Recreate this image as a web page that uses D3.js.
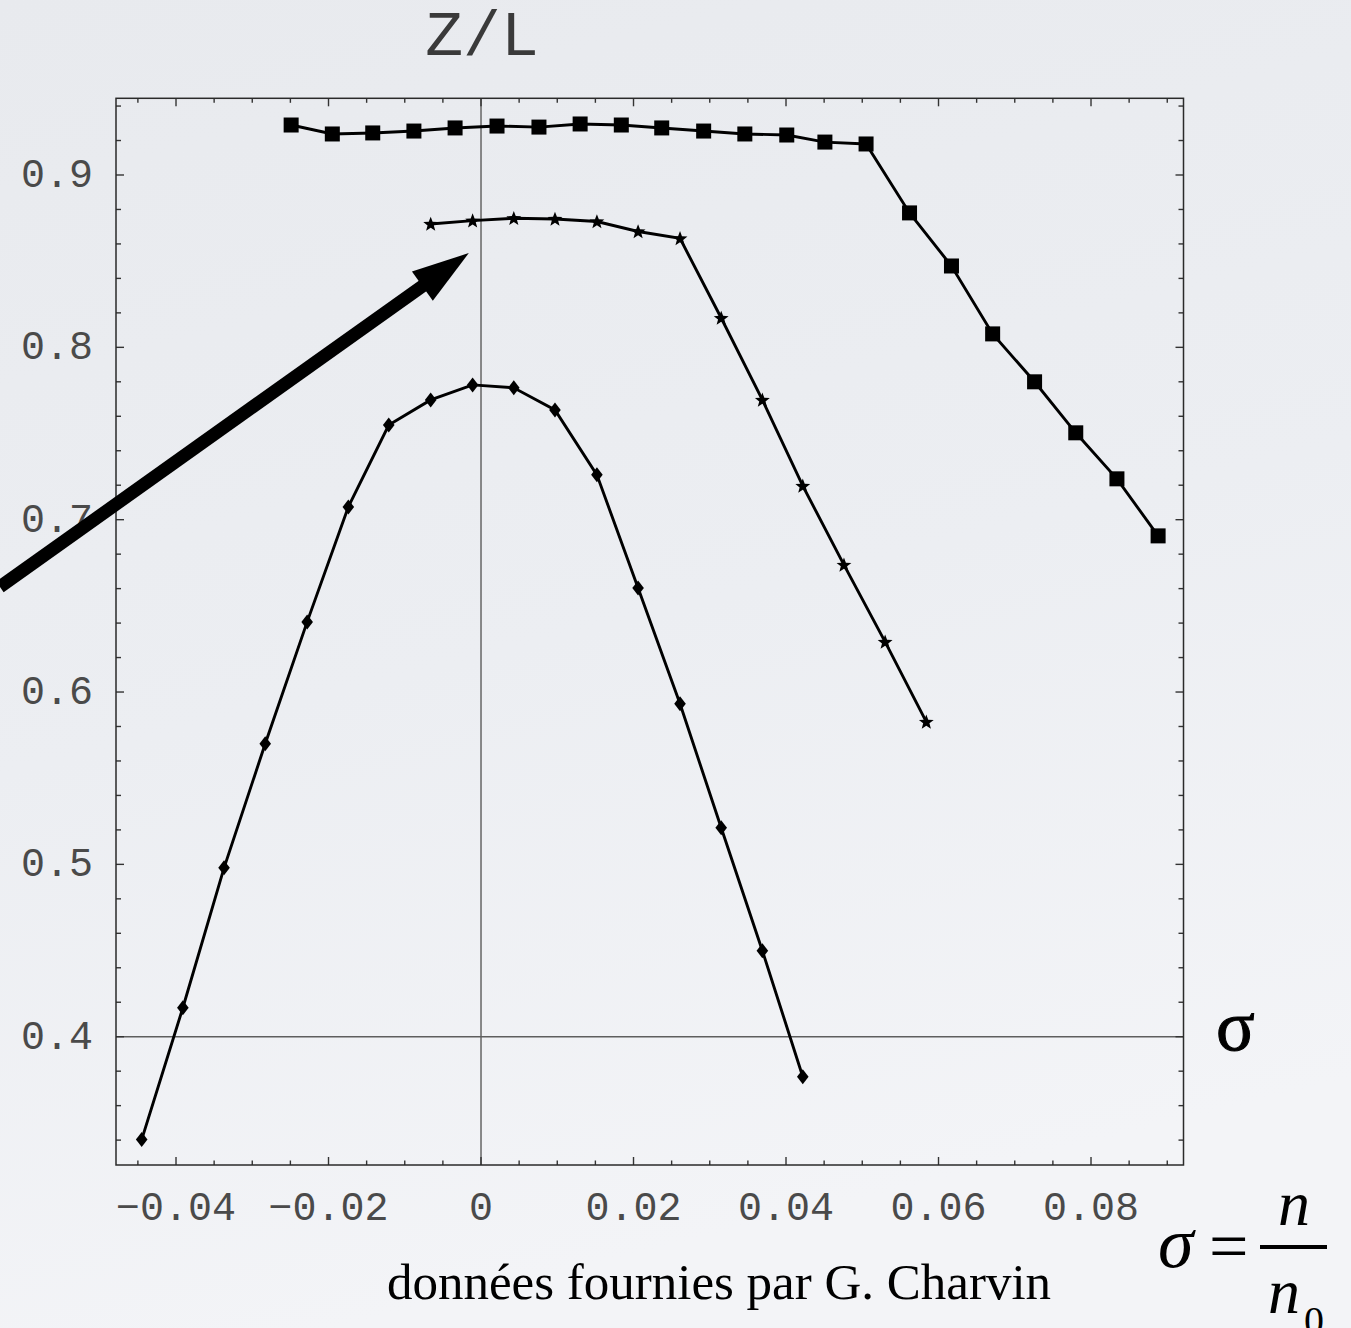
<!DOCTYPE html>
<html>
<head>
<meta charset="utf-8">
<script src="https://cdn.jsdelivr.net/npm/d3@7"></script>
<style>
html,body{margin:0;padding:0;}
svg{display:block;}
</style>
</head>
<body>
<svg id="chart" width="1351" height="1328"></svg>
<script>
// ---- data ----
const squareX = [-0.0249,-0.0195,-0.0142,-0.0088,-0.0034,0.0021,0.0076,0.0130,0.0184,0.0237,0.0292,0.0346,0.0401,0.0451,0.0505,0.0562,0.0617,0.0671,0.0726,0.0780,0.0834,0.0888];
const squareY = [0.929,0.9238,0.9244,0.9255,0.9273,0.9284,0.9278,0.9296,0.929,0.9273,0.9255,0.9238,0.9232,0.9191,0.918,0.878,0.8472,0.8078,0.780,0.7504,0.7237,0.6906];
const starX = [-0.0066,-0.0011,0.0043,0.0097,0.0152,0.0206,0.0261,0.0315,0.0369,0.0422,0.0476,0.0530,0.0584];
const starY = [0.8716,0.8735,0.8749,0.8745,0.8730,0.8672,0.8632,0.817,0.7695,0.7196,0.6738,0.6291,0.5827];
const diamondX = [-0.0445,-0.0391,-0.0337,-0.0283,-0.0228,-0.0174,-0.0121,-0.0066,-0.0011,0.0043,0.0097,0.0152,0.0206,0.0261,0.0315,0.0369,0.0422];
const diamondY = [0.3403,0.4168,0.498,0.570,0.6407,0.7074,0.7549,0.7695,0.7782,0.7765,0.7637,0.726,0.6604,0.5932,0.5212,0.4499,0.3768];
const xTicks = [-0.04,-0.02,0,0.02,0.04,0.06,0.08];
const xTickLabels = ["\u22120.04","\u22120.02","0","0.02","0.04","0.06","0.08"];
const yTicks = [0.4,0.5,0.6,0.7,0.8,0.9];
const yTickLabels = ["0.4","0.5","0.6","0.7","0.8","0.9"];
const yTitle = "Z/L";
const caption = "données fournies par G. Charvin";
const arrowFrom = [-0.0631, 0.661];
const arrowTo = [-0.0016, 0.8547];

// ---- layout ----
const svg = d3.select("#chart");
const W = 1351, H = 1328;
const L = 116, R = 1183.5, T = 98.3, B = 1165;
const x = d3.scaleLinear().domain([-0.04787, 0.09213]).range([L, R]);
const y = d3.scaleLinear().domain([0.32556, 0.9445]).range([B, T]);

// background
const defs = svg.append("defs");
const grad = defs.append("linearGradient").attr("id","bg").attr("x1",0).attr("y1",0).attr("x2",0.25).attr("y2",1);
grad.append("stop").attr("offset","0%").attr("stop-color","#e8eaee");
grad.append("stop").attr("offset","55%").attr("stop-color","#eceef2");
grad.append("stop").attr("offset","100%").attr("stop-color","#f3f4f7");
svg.append("rect").attr("width",W).attr("height",H).attr("fill","url(#bg)");

const g = svg.append("g");

// zero axes lines
g.append("line").attr("x1",x(0)).attr("x2",x(0)).attr("y1",T).attr("y2",B)
  .attr("stroke","#6e6e6e").attr("stroke-width",1.6);
g.append("line").attr("x1",L).attr("x2",R).attr("y1",y(0.4)).attr("y2",y(0.4))
  .attr("stroke","#5e5e5e").attr("stroke-width",1.6);

// ticks (inward on all four sides)
const xMinor = d3.range(-0.045, 0.0921, 0.005).map(v => +v.toFixed(3));
const yMinor = d3.range(0.34, 0.941, 0.02).map(v => +v.toFixed(2));
const isMajX = v => Math.abs(Math.round(v/0.02)*0.02 - v) < 1e-6;
const isMajY = v => Math.abs(Math.round(v/0.1)*0.1 - v) < 1e-6;
const tickG = g.append("g").attr("stroke","#333").attr("stroke-width",1.4);
xMinor.forEach(v => {
  const len = isMajX(v) ? 8 : 4.5;
  tickG.append("line").attr("x1",x(v)).attr("x2",x(v)).attr("y1",B).attr("y2",B-len);
  tickG.append("line").attr("x1",x(v)).attr("x2",x(v)).attr("y1",T).attr("y2",T+len);
});
yMinor.forEach(v => {
  const len = isMajY(v) ? 8 : 5;
  tickG.append("line").attr("y1",y(v)).attr("y2",y(v)).attr("x1",L).attr("x2",L+len);
  tickG.append("line").attr("y1",y(v)).attr("y2",y(v)).attr("x1",R).attr("x2",R-len);
});

// frame
g.append("rect").attr("x",L).attr("y",T).attr("width",R-L).attr("height",B-T)
  .attr("fill","none").attr("stroke","#2a2a2a").attr("stroke-width",1.5);

// tick labels
const mono = "'Liberation Mono','DejaVu Sans Mono',monospace";
g.selectAll(".xl").data(xTicks).enter().append("text")
  .attr("x", d => x(d)).attr("y", 1220)
  .attr("text-anchor","middle").attr("font-family",mono).attr("font-size",40)
  .attr("fill","#4a4a4a")
  .text((d,i) => xTickLabels[i]);
g.selectAll(".yl").data(yTicks).enter().append("text")
  .attr("x", 93).attr("y", d => y(d)+12)
  .attr("text-anchor","end").attr("font-family",mono).attr("font-size",40)
  .attr("fill","#4a4a4a")
  .text((d,i) => yTickLabels[i]);

// title
g.append("text").attr("x", x(0)+1).attr("y", 55).attr("text-anchor","middle")
  .attr("font-family",mono).attr("font-size",63).attr("fill","#3a3a3a").text(yTitle);

// series
const line = d3.line().x(d => x(d[0])).y(d => y(d[1]));
const sq = d3.zip(squareX, squareY);
const st = d3.zip(starX, starY);
const di = d3.zip(diamondX, diamondY);
[sq, st, di].forEach(s => {
  g.append("path").attr("d", line(s)).attr("fill","none").attr("stroke","#000").attr("stroke-width",2.9);
});
g.selectAll(".sq").data(sq).enter().append("rect")
  .attr("x", d => x(d[0])-7.5).attr("y", d => y(d[1])-7.5)
  .attr("width",15).attr("height",15).attr("fill","#000");
const starPath = (() => {
  const pts = [];
  for (let i = 0; i < 10; i++) {
    const r = i % 2 === 0 ? 7.8 : 3.3;
    const a = -Math.PI/2 + i*Math.PI/5;
    pts.push([r*Math.cos(a), r*Math.sin(a)]);
  }
  return "M" + pts.map(p => p[0].toFixed(2)+","+p[1].toFixed(2)).join("L") + "Z";
})();
g.selectAll(".st").data(st).enter().append("path")
  .attr("d", starPath).attr("transform", d => `translate(${x(d[0])},${y(d[1])+0.5})`).attr("fill","#000");
g.selectAll(".di").data(di).enter().append("path")
  .attr("d", "M0,-7.5L5.8,0L0,7.5L-5.8,0Z").attr("transform", d => `translate(${x(d[0])},${y(d[1])})`).attr("fill","#000");

// arrow annotation
const ax0 = x(arrowFrom[0]), ay0 = y(arrowFrom[1]);
const ax1 = x(arrowTo[0]), ay1 = y(arrowTo[1]);
const ang = Math.atan2(ay1-ay0, ax1-ax0);
const headLen = 57, headHalf = 18;
const bx = ax1 - headLen*Math.cos(ang), by = ay1 - headLen*Math.sin(ang);
const nx = -Math.sin(ang), ny = Math.cos(ang);
g.append("line").attr("x1",ax0).attr("y1",ay0)
  .attr("x2", ax1 - (headLen-5)*Math.cos(ang)).attr("y2", ay1 - (headLen-5)*Math.sin(ang))
  .attr("stroke","#000").attr("stroke-width",13);
g.append("path").attr("d", `M${ax1},${ay1}L${bx+nx*headHalf},${by+ny*headHalf}L${bx-nx*headHalf},${by-ny*headHalf}Z`)
  .attr("fill","#000");

// right-hand labels
const serif = "'Liberation Serif','Times New Roman',serif";
g.append("text").attr("x",1216).attr("y",1050).attr("font-family",serif).attr("font-size",72)
  .attr("fill","#000").attr("stroke","#000").attr("stroke-width",1).text("σ");
g.append("text").attr("x",719).attr("y",1299).attr("text-anchor","middle")
  .attr("font-family",serif).attr("font-size",51).attr("fill","#000").text(caption);

// formula sigma = n / n0
g.append("text").attr("x",1158).attr("y",1267).attr("font-family",serif).attr("font-style","italic")
  .attr("font-size",72).attr("fill","#000").text("σ");
g.append("text").attr("x",1209).attr("y",1270).attr("font-family",serif)
  .attr("font-size",70).attr("fill","#000").text("=");
g.append("line").attr("x1",1260).attr("x2",1327).attr("y1",1247).attr("y2",1247)
  .attr("stroke","#000").attr("stroke-width",4);
g.append("text").attr("x",1294).attr("y",1225).attr("text-anchor","middle").attr("font-family",serif)
  .attr("font-style","italic").attr("font-size",64).attr("fill","#000").text("n");
g.append("text").attr("x",1268).attr("y",1313).attr("font-family",serif)
  .attr("font-style","italic").attr("font-size",64).attr("fill","#000").text("n");
g.append("text").attr("x",1304).attr("y",1334).attr("font-family",serif)
  .attr("font-size",40).attr("fill","#000").text("0");
</script>
</body>
</html>
